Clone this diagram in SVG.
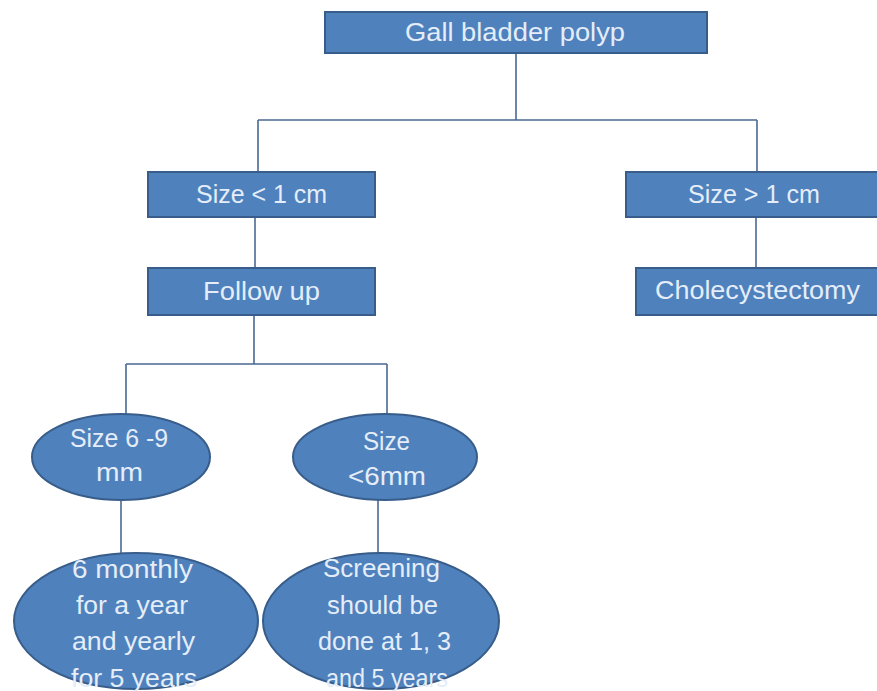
<svg xmlns="http://www.w3.org/2000/svg" width="877" height="691" viewBox="0 0 877 691">
<style>
.bg{fill:#ffffff}
.box{fill:#4f81bd;stroke:#385d8a;stroke-width:2}
.ell{fill:#4f81bd;stroke:#385d8a;stroke-width:2}
.lbl{font-family:"Liberation Sans",Arial,sans-serif;font-size:25px;fill:#e4edf8;text-anchor:middle}
.con{fill:none;stroke:#4a6991;stroke-width:1.6}
</style>
<rect class="bg" x="0" y="0" width="877" height="691"/>
<g id="connectors">
<path class="con" d="M516,53 V120 M258,120 H757 M258,120 V172 M757,120 V172"/>
<path class="con" d="M255,217 V268"/>
<path class="con" d="M756,217 V268"/>
<path class="con" d="M254,315 V364 M126,364 H387 M126,364 V414 M387,364 V414"/>
<path class="con" d="M121,500 V553"/>
<path class="con" d="M378,500 V553"/>
</g>
<g id="node-gall">
<rect class="box" x="325" y="12" width="382" height="41"/>
<text class="lbl" x="515" y="41" textLength="220" lengthAdjust="spacingAndGlyphs">Gall bladder polyp</text>
</g>
<g id="node-lt1">
<rect class="box" x="148" y="172" width="227" height="45"/>
<text class="lbl" x="261.5" y="203" textLength="131" lengthAdjust="spacingAndGlyphs">Size &lt; 1 cm</text>
</g>
<g id="node-gt1">
<rect class="box" x="626" y="172" width="262" height="45"/>
<text class="lbl" x="754" y="203" textLength="132" lengthAdjust="spacingAndGlyphs">Size &gt; 1 cm</text>
</g>
<g id="node-follow">
<rect class="box" x="148" y="268" width="227" height="47"/>
<text class="lbl" x="261.5" y="300" textLength="117" lengthAdjust="spacingAndGlyphs">Follow up</text>
</g>
<g id="node-chole">
<rect class="box" x="636" y="268" width="252" height="47"/>
<text class="lbl" x="757.5" y="299" textLength="205" lengthAdjust="spacingAndGlyphs">Cholecystectomy</text>
</g>
<g id="node-69">
<ellipse class="ell" cx="121" cy="457" rx="89" ry="43"/>
<text class="lbl" x="119" y="447" textLength="98" lengthAdjust="spacingAndGlyphs">Size 6 -9</text>
<text class="lbl" x="119.5" y="481" textLength="47" lengthAdjust="spacingAndGlyphs">mm</text>
</g>
<g id="node-lt6">
<ellipse class="ell" cx="385" cy="457" rx="92" ry="43"/>
<text class="lbl" x="386.5" y="450" textLength="47" lengthAdjust="spacingAndGlyphs">Size</text>
<text class="lbl" x="387" y="485" textLength="78" lengthAdjust="spacingAndGlyphs">&lt;6mm</text>
</g>
<g id="node-monthly">
<ellipse class="ell" cx="136" cy="621" rx="122" ry="68"/>
<text class="lbl" x="132.5" y="578" textLength="121" lengthAdjust="spacingAndGlyphs">6 monthly</text>
<text class="lbl" x="132" y="614" textLength="112" lengthAdjust="spacingAndGlyphs">for a year</text>
<text class="lbl" x="133.5" y="650" textLength="123" lengthAdjust="spacingAndGlyphs">and yearly</text>
<text class="lbl" x="134" y="687" textLength="126" lengthAdjust="spacingAndGlyphs">for 5 years</text>
</g>
<g id="node-screening">
<ellipse class="ell" cx="381" cy="621" rx="118" ry="68"/>
<text class="lbl" x="381.5" y="577" textLength="117" lengthAdjust="spacingAndGlyphs">Screening</text>
<text class="lbl" x="382.5" y="614" textLength="111" lengthAdjust="spacingAndGlyphs">should be</text>
<text class="lbl" x="384.5" y="650" textLength="133" lengthAdjust="spacingAndGlyphs">done at 1, 3</text>
<text class="lbl" x="387" y="687" textLength="122" lengthAdjust="spacingAndGlyphs">and 5 years</text>
</g>
</svg>
